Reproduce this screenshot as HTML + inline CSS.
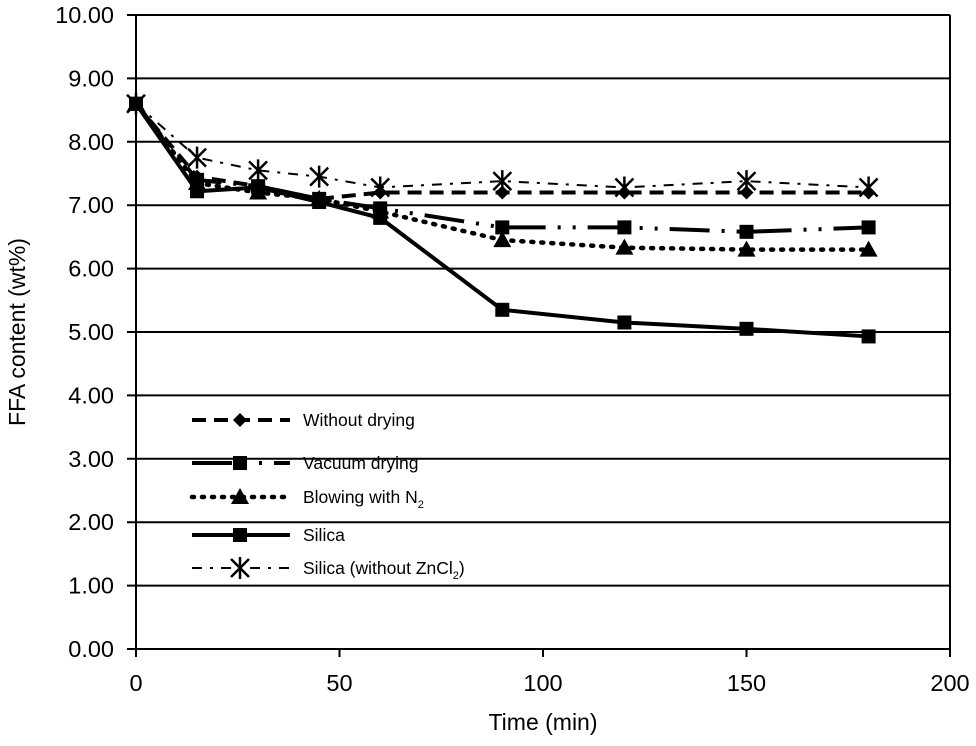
<!DOCTYPE html>
<html><head><meta charset="utf-8"><style>
body{margin:0;background:#fff}
svg text{font-family:"Liberation Sans",Arial,sans-serif;fill:#000}
</style></head><body>
<svg id="c" width="976" height="741" xmlns="http://www.w3.org/2000/svg"></svg>
<script>
const times=[0,15,30,45,60,90,120,150,180];
const withoutDrying=[8.6,7.45,7.3,7.1,7.2,7.2,7.2,7.2,7.2];
const vacuumDrying=[8.6,7.4,7.3,7.1,6.95,6.65,6.65,6.58,6.65];
const blowingN2=[8.6,7.35,7.2,7.1,6.9,6.45,6.33,6.3,6.3];
const silica=[8.6,7.22,7.28,7.05,6.8,5.35,5.15,5.05,4.93];
const silicaNoZn=[8.6,7.75,7.55,7.45,7.28,7.38,7.28,7.38,7.28];
const yTicks=[0,1,2,3,4,5,6,7,8,9,10];
const xTicks=[0,50,100,150,200];
const NS="http://www.w3.org/2000/svg";
const svg=document.getElementById('c');
const X0=136,X1=950,Y0=649,Y1=15;
const xs=v=>X0+(v/200)*(X1-X0);
const ys=v=>Y0-(v/10)*(Y0-Y1);
function el(t,a,p){const e=document.createElementNS(NS,t);for(const k in a)e.setAttribute(k,a[k]);(p||svg).appendChild(e);return e;}
for(const t of yTicks){
 const g=el('line',{x1:127,x2:X1,y1:ys(t),y2:ys(t),stroke:'#000','stroke-width':2});
 
 
 const tx=el('text',{x:114,y:ys(t)+8,'text-anchor':'end','font-size':23.5});
 tx.textContent=t.toFixed(2);
 
 
}
const ax=el('line',{x1:X0,x2:X0,y1:Y1,y2:Y0+8,stroke:'#000','stroke-width':2});


const rf=el('line',{x1:X1,x2:X1,y1:Y1,y2:Y0,stroke:'#000','stroke-width':2});


for(const t of xTicks){
 const l=el('line',{x1:xs(t),x2:xs(t),y1:Y0,y2:Y0+8,stroke:'#000','stroke-width':2});
 
 
 const tx=el('text',{x:xs(t),y:691,'text-anchor':'middle','font-size':23.5});
 tx.textContent=t;
 
 
}
const xt=el('text',{x:543,y:730,'text-anchor':'middle','font-size':23});xt.textContent='Time (min)';


const yt=el('text',{x:0,y:0,'text-anchor':'middle','font-size':23,transform:'translate(25,332) rotate(-90)'});yt.textContent='FFA content (wt%)';



function marker(type,x,y,p){
 let m;
 if(type==='diamond') m=el('polygon',{points:`${x},${y-7} ${x+7},${y} ${x},${y+7} ${x-7},${y}`,fill:'#000'},p);
 else if(type==='square') m=el('rect',{x:x-7,y:y-7,width:14,height:14,fill:'#000'},p);
 else if(type==='tri') m=el('polygon',{points:`${x},${y-9} ${x+9},${y+7} ${x-9},${y+7}`,fill:'#000'},p);
 else {m=el('g',{},p);el('path',{d:`M${x-9} ${y-9}L${x+9} ${y+9}M${x-9} ${y+9}L${x+9} ${y-9}M${x} ${y-11}V${y+11}`,stroke:'#000','stroke-width':2.5,fill:'none'},m);}
 return m;
}
const series=[
 {name:'series-without-drying',vals:withoutDrying,dash:'14,8',w:4,mk:'diamond'},
 {name:'series-vacuum-drying',vals:vacuumDrying,dash:'40,12,3,12,3,12',w:4,mk:'square'},
 {name:'series-blowing-n2',vals:blowingN2,dash:'2,8',w:4.5,mk:'tri',cap:'round'},
 {name:'series-silica',vals:silica,dash:'',w:4,mk:'square'},
 {name:'series-silica-no-zncl2',vals:silicaNoZn,dash:'10,8,3,8',w:2,mk:'star'}
];
for(const s of series){
 const g=el('g',{});
 
 
 const d=s.vals.map((v,i)=>(i?'L':'M')+xs(times[i])+' '+ys(v)).join('');
 el('path',{d,fill:'none',stroke:'#000','stroke-width':s.w,'stroke-dasharray':s.dash,'stroke-linecap':s.cap||'butt'},g);
 s.vals.forEach((v,i)=>{const m=marker(s.mk,xs(times[i]),ys(v),g);
  
  });
}
const labels=['Without drying','Vacuum drying','Blowing with N','Silica','Silica (without ZnCl'];
const ly=[420,463,497,535,568];
series.forEach((s,i)=>{
 const g=el('g',{});
 
 
 el('path',{d:`M192 ${ly[i]}H290`,stroke:'#000','stroke-width':s.w,'stroke-dasharray':s.dash,fill:'none','stroke-linecap':s.cap||'butt'},g);
 marker(s.mk,240,ly[i],g);
 const t=el('text',{x:303,y:ly[i]+6,'font-size':17.5},g);
 t.textContent=labels[i];
 if(i===2){const sb=el('tspan',{'font-size':11,dy:5},t);sb.textContent='2';}
 if(i===4){const sb=el('tspan',{'font-size':11,dy:5},t);sb.textContent='2';const c=el('tspan',{dy:-5},t);c.textContent=')';}
});
</script>
</body></html>
